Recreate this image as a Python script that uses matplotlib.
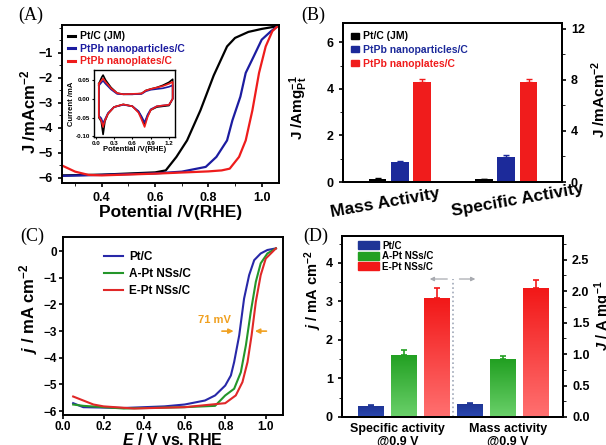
import numpy as np
import matplotlib
matplotlib.use('Agg')
import matplotlib.pyplot as plt
from matplotlib.lines import Line2D
from matplotlib.patches import Patch
from matplotlib.colors import LinearSegmentedColormap

plt.rcParams['font.family'] = 'Liberation Sans'
plt.rcParams['font.weight'] = 'bold'
plt.rcParams['axes.labelweight'] = 'bold'
plt.rcParams['mathtext.fontset'] = 'custom'
plt.rcParams['mathtext.rm'] = 'Liberation Sans:bold'
plt.rcParams['mathtext.it'] = 'Liberation Sans:bold:italic'
plt.rcParams['mathtext.bf'] = 'Liberation Sans:bold'
plt.rcParams['axes.linewidth'] = 1.4

# ---------------- data: panel A (ORR polarisation) ----------------
a_jm_v = [0.25, 0.40, 0.60, 0.64, 0.68, 0.72, 0.77, 0.82, 0.87, 0.90, 0.95, 1.00, 1.06]
a_jm_j = [-5.90, -5.87, -5.78, -5.70, -5.16, -4.50, -3.30, -1.90, -0.74, -0.40, -0.16, -0.04, 0.07]
a_np_v = [0.25, 0.40, 0.60, 0.70, 0.79, 0.83, 0.87, 0.89, 0.92, 0.94, 0.97, 1.00, 1.035, 1.06]
a_np_j = [-5.92, -5.88, -5.82, -5.75, -5.56, -5.16, -4.50, -3.70, -2.75, -1.80, -1.14, -0.47, -0.13, 0.07]
a_pl_v = [0.25, 0.30, 0.35, 0.40, 0.60, 0.80, 0.85, 0.88, 0.915, 0.94, 0.965, 0.99, 1.015, 1.04, 1.06]
a_pl_j = [-5.50, -5.75, -5.88, -5.90, -5.83, -5.74, -5.70, -5.63, -5.16, -4.50, -3.30, -1.80, -0.74, -0.13, 0.07]

# inset CV (closed loops)
cv_v = [0.05, 0.10, 0.12, 0.16, 0.25, 0.35, 0.45, 0.60, 0.75, 0.82, 0.90, 1.00, 1.10, 1.20, 1.26,
        1.26, 1.20, 1.10, 1.00, 0.90, 0.85, 0.80, 0.75, 0.70, 0.60, 0.45, 0.30, 0.20, 0.15, 0.12, 0.09, 0.05, 0.05]
cv_jm = [0.040, 0.058, 0.063, 0.050, 0.030, 0.015, 0.012, 0.012, 0.014, 0.022, 0.026, 0.030, 0.036, 0.044, 0.052,
         0.000, -0.018, -0.020, -0.022, -0.030, -0.045, -0.068, -0.050, -0.035, -0.020, -0.015, -0.022, -0.040, -0.060, -0.095, -0.060, -0.050, 0.040]
cv_np = [0.035, 0.045, 0.048, 0.040, 0.025, 0.013, 0.012, 0.012, 0.013, 0.020, 0.024, 0.026, 0.028, 0.032, 0.036,
         0.000, -0.016, -0.018, -0.020, -0.028, -0.042, -0.063, -0.047, -0.033, -0.020, -0.016, -0.022, -0.038, -0.055, -0.065, -0.052, -0.045, 0.035]
cv_pl = [0.040, 0.050, 0.054, 0.045, 0.028, 0.015, 0.012, 0.013, 0.014, 0.022, 0.026, 0.030, 0.034, 0.040, 0.045,
         0.000, -0.016, -0.018, -0.020, -0.030, -0.048, -0.075, -0.055, -0.037, -0.020, -0.015, -0.022, -0.040, -0.058, -0.075, -0.058, -0.048, 0.040]

# ---------------- data: panel B ----------------
b_labels = ['Pt/C (JM)', 'PtPb nanoparticles/C', 'PtPb nanoplates/C']
b_mass = [0.13, 0.84, 4.31]
b_mass_err = [0.03, 0.05, 0.13]
b_spec = [0.20, 1.99, 7.85]
b_spec_err = [0.05, 0.10, 0.20]

# ---------------- data: panel C ----------------
c_pt_v = [0.05, 0.10, 0.30, 0.50, 0.60, 0.70, 0.75, 0.80, 0.828, 0.844, 0.869, 0.893, 0.918, 0.943, 0.975, 1.008, 1.05]
c_pt_j = [-5.70, -5.85, -5.88, -5.82, -5.75, -5.60, -5.41, -5.04, -4.66, -4.16, -3.16, -1.78, -0.90, -0.34, -0.09, 0.04, 0.10]
c_a_v = [0.05, 0.10, 0.30, 0.60, 0.75, 0.80, 0.844, 0.877, 0.902, 0.926, 0.951, 0.975, 1.008, 1.05]
c_a_j = [-5.75, -5.80, -5.90, -5.85, -5.80, -5.41, -5.16, -4.54, -3.53, -2.28, -1.15, -0.46, -0.09, 0.10]
c_e_v = [0.05, 0.10, 0.15, 0.20, 0.35, 0.60, 0.80, 0.852, 0.885, 0.910, 0.930, 0.951, 0.975, 1.000, 1.033, 1.05]
c_e_j = [-5.45, -5.60, -5.75, -5.82, -5.90, -5.85, -5.70, -5.41, -4.91, -4.16, -3.16, -1.90, -0.90, -0.28, -0.03, 0.10]

# ---------------- data: panel D ----------------
d_labels = ['Pt/C', 'A-Pt NSs/C', 'E-Pt NSs/C']
d_spec = [0.28, 1.62, 3.08]
d_spec_err = [0.04, 0.12, 0.27]
d_mass = [0.20, 0.92, 2.05]
d_mass_err = [0.03, 0.05, 0.12]


def bars_with_err(ax, x, h, err, w, colors, lw=1.0):
    bars = ax.bar(x, h, w, color=colors)
    for xi, hi, ei, c in zip(x, h, err, colors):
        ax.errorbar(xi, hi, yerr=[[0], [ei]], color=c, capsize=2.5, lw=lw, capthick=lw)
    return bars


fig = plt.figure(figsize=(6.06, 4.45), dpi=100)

# ================= panel A =================
axA = fig.add_axes([0.102, 0.589, 0.358, 0.355])
axA.plot(a_jm_v, a_jm_j, color='black', lw=1.6)
axA.plot(a_np_v, a_np_j, color='#1c1ca0', lw=1.6)
axA.plot(a_pl_v, a_pl_j, color='#ee1c1c', lw=1.6)
axA.set_xlim(0.25, 1.064)
axA.set_ylim(-6.2, 0.12)
axA.set_xticks([0.4, 0.6, 0.8, 1.0])
axA.set_yticks([-1, -2, -3, -4, -5, -6])
axA.set_xticks(np.arange(0.3, 1.06, 0.1), minor=True)
axA.set_yticks(np.arange(-6, 0.1, 0.5), minor=True)
axA.tick_params(labelsize=9, width=1.2, length=3)
axA.tick_params(which='minor', length=2)
axA.set_xlabel('Potential /V(RHE)', fontsize=12.5, labelpad=1)
axA.set_ylabel('J /mAcm$^{-2}$', fontsize=12)
axA.yaxis.set_label_coords(-0.11, 0.45)
legA = axA.legend(handles=[Line2D([], [], color=c, lw=2.2) for c in ['black', '#1c1ca0', '#ee1c1c']],
                  labels=b_labels, loc='upper left', frameon=False, fontsize=7.5,
                  handlelength=0.7, handletextpad=0.4, labelspacing=0.25, borderaxespad=0.2)
for t, c in zip(legA.get_texts(), ['black', '#1c1ca0', '#ee1c1c']):
    t.set_color(c)
fig.text(0.03, 0.965, '(A)', fontsize=13, family='Liberation Serif', weight='normal', va='center')

axI = fig.add_axes([0.155, 0.692, 0.134, 0.151])
axI.plot(cv_v, cv_jm, color='black', lw=1.2)
axI.plot(cv_v, cv_np, color='#1c1ca0', lw=1.2)
axI.plot(cv_v, cv_pl, color='#ee1c1c', lw=1.2)
axI.set_xlim(-0.03, 1.3)
axI.set_ylim(-0.102, 0.077)
axI.set_xticks([0.0, 0.3, 0.6, 0.9, 1.2])
axI.set_yticks([0.05, 0.0, -0.05, -0.10])
axI.set_yticklabels(['0.05', '0.00', '-0.05', '-0.10'])
axI.tick_params(labelsize=4.5, length=1.5, width=0.8, pad=1)
axI.set_xlabel('Potential /V(RHE)', fontsize=5.5, labelpad=0.5)
axI.set_ylabel('Current /mA', fontsize=5.5, labelpad=0.5)
for s in axI.spines.values():
    s.set_linewidth(1.0)

# ================= panel B =================
axB = fig.add_axes([0.566, 0.591, 0.361, 0.357])
axB2 = axB.twinx()
colsB = ['black', '#1c2a9a', '#f01c1c']
xm = np.array([0.0, 1.0, 2.0])
xs = xm + 4.78
bars_with_err(axB, xm, b_mass, b_mass_err, 0.8, colsB)
bars_with_err(axB2, xs, b_spec, b_spec_err, 0.8, colsB)
axB.set_xlim(-1.55, 8.27)
axB.set_ylim(0, 6.83)
axB2.set_ylim(0, 12.42)
axB.set_yticks([0, 2, 4, 6])
axB.set_yticks([1, 3, 5], minor=True)
axB2.set_yticks([0, 4, 8, 12])
axB2.set_yticks([2, 6, 10], minor=True)
axB.set_xticks([])
for ax in (axB, axB2):
    ax.tick_params(labelsize=9, width=1.2, length=3)
    ax.tick_params(which='minor', length=2)
axB.set_ylabel('J /Amg$^{-1}_{\\mathrm{Pt}}$', fontsize=11)
axB.yaxis.set_label_coords(-0.15, 0.47)
axB2.set_ylabel('J /mAcm$^{-2}$', fontsize=11)
axB2.yaxis.set_label_coords(1.125, 0.52)
axB.text(0.34, -0.13, 'Mass Activity', transform=axB.get_xaxis_transform(), fontsize=12.5,
         rotation=10, ha='center', va='center')
axB.text(6.3, -0.115, 'Specific Activity', transform=axB.get_xaxis_transform(), fontsize=12.5,
         rotation=10, ha='center', va='center')
legB = axB.legend(handles=[Patch(color=c) for c in colsB], labels=b_labels, loc='upper left',
                  frameon=False, fontsize=7.5, handlelength=0.7, handleheight=0.5,
                  handletextpad=0.4, labelspacing=0.35, borderaxespad=0.4)
for t, c in zip(legB.get_texts(), colsB):
    t.set_color(c)
fig.text(0.497, 0.965, '(B)', fontsize=13, family='Liberation Serif', weight='normal', va='center')

# ================= panel C =================
axC = fig.add_axes([0.104, 0.067, 0.363, 0.40])
axC.plot(c_pt_v, c_pt_j, color='#2828a8', lw=1.5, label='Pt/C')
axC.plot(c_a_v, c_a_j, color='#24962a', lw=1.5, label='A-Pt NSs/C')
axC.plot(c_e_v, c_e_j, color='#e02828', lw=1.5, label='E-Pt NSs/C')
axC.set_xlim(0.0, 1.085)
axC.set_ylim(-6.15, 0.52)
axC.set_xticks([0.0, 0.2, 0.4, 0.6, 0.8, 1.0])
axC.set_yticks([0, -1, -2, -3, -4, -5, -6])
axC.tick_params(labelsize=8.5, width=1.2, length=3, pad=1.5)
axC.set_xlabel('$\\it{E}$ / V vs. RHE', fontsize=11.5, labelpad=-1)
axC.set_ylabel('$\\it{j}$ / mA cm$^{-2}$', fontsize=12)
axC.yaxis.set_label_coords(-0.105, 0.6)
axC.legend(loc='upper left', frameon=False, fontsize=8.5, handlelength=1.6,
           handletextpad=0.5, labelspacing=0.4, bbox_to_anchor=(0.14, 0.98))
orange = '#f0a020'
axC.text(0.745, -2.6, '71 mV', color=orange, fontsize=8, ha='center', va='center')
axC.annotate('', xy=(0.855, -3.0), xytext=(0.77, -3.0),
             arrowprops=dict(arrowstyle='-|>', color=orange, lw=1.2, mutation_scale=7))
axC.annotate('', xy=(0.933, -3.0), xytext=(1.017, -3.0),
             arrowprops=dict(arrowstyle='-|>', color=orange, lw=1.2, mutation_scale=7))
fig.text(0.033, 0.468, '(C)', fontsize=13, family='Liberation Serif', weight='normal', va='center')

# ================= panel D =================
axD = fig.add_axes([0.564, 0.063, 0.365, 0.407])
axD2 = axD.twinx()
colsD = ['#1f3596', '#22a022', '#f21818']
lightD = ['#2a48b0', '#6ad06a', '#ff7070']
xsD = np.array([0.0, 1.0, 2.0])
xmD = xsD + 3.0
barsS = bars_with_err(axD, xsD, d_spec, d_spec_err, 0.76, colsD, lw=1.2)
barsM = bars_with_err(axD2, xmD, d_mass, d_mass_err, 0.76, colsD, lw=1.2)
grad = np.linspace(0, 1, 100).reshape(-1, 1)
for ax, bars in [(axD, barsS), (axD2, barsM)]:
    for b, c, l in zip(bars, colsD, lightD):
        cmap = LinearSegmentedColormap.from_list('g', [l, c])
        x0, y0 = b.get_x(), b.get_y()
        im = ax.imshow(grad, extent=[x0, x0 + b.get_width(), y0, y0 + b.get_height()],
                       origin='lower', cmap=cmap, aspect='auto', zorder=b.get_zorder())
        im.set_clip_path(b)
axD.set_xlim(-0.88, 5.82)
axD.set_ylim(0, 4.7)
axD2.set_ylim(0, 2.88)
axD.set_yticks([0, 1, 2, 3, 4])
axD.set_yticks([0.5, 1.5, 2.5, 3.5, 4.5], minor=True)
axD2.set_yticks([0.0, 0.5, 1.0, 1.5, 2.0, 2.5])
axD2.set_yticks([0.25, 0.75, 1.25, 1.75, 2.25, 2.75], minor=True)
axD2.set_yticklabels(['0.0', '0.5', '1.0', '1.5', '2.0', '2.5'])
axD.set_xticks([])
for ax in (axD, axD2):
    ax.tick_params(labelsize=9, width=1.2, length=3)
    ax.tick_params(which='minor', length=2)
axD.set_ylabel('$\\it{j}$ / mA cm$^{-2}$', fontsize=10.5)
axD.yaxis.set_label_coords(-0.08, 0.70)
axD2.set_ylabel('$\\it{J}$ / A mg$^{-1}$', fontsize=10.5)
axD2.yaxis.set_label_coords(1.135, 0.56)
axD.axvline(2.5, ymax=3.58 / 4.7, color='#a0a8b8', ls=':', lw=1.2)
axD.annotate('', xy=(1.7, 3.58), xytext=(2.4, 3.58),
             arrowprops=dict(arrowstyle='-|>', color='#a8aab0', lw=0.9, mutation_scale=6))
axD.annotate('', xy=(3.25, 3.58), xytext=(2.6, 3.58),
             arrowprops=dict(arrowstyle='-|>', color='#a8aab0', lw=0.9, mutation_scale=6))
axD.text(0.82, -0.035, 'Specific activity\n@0.9 V', transform=axD.get_xaxis_transform(),
         fontsize=9, ha='center', va='top', linespacing=1.1)
axD.text(4.15, -0.035, 'Mass activity\n@0.9 V', transform=axD.get_xaxis_transform(),
         fontsize=9, ha='center', va='top', linespacing=1.1)
axD.legend(handles=[Patch(color=c) for c in colsD], labels=d_labels, loc='upper left',
           frameon=False, fontsize=7, handlelength=2.2, handleheight=0.9, handletextpad=0.3,
           labelspacing=0.05, borderaxespad=0.1, bbox_to_anchor=(0.05, 1.0))
fig.text(0.5, 0.468, '(D)', fontsize=13, family='Liberation Serif', weight='normal', va='center')

plt.savefig('out.png', dpi=100)
